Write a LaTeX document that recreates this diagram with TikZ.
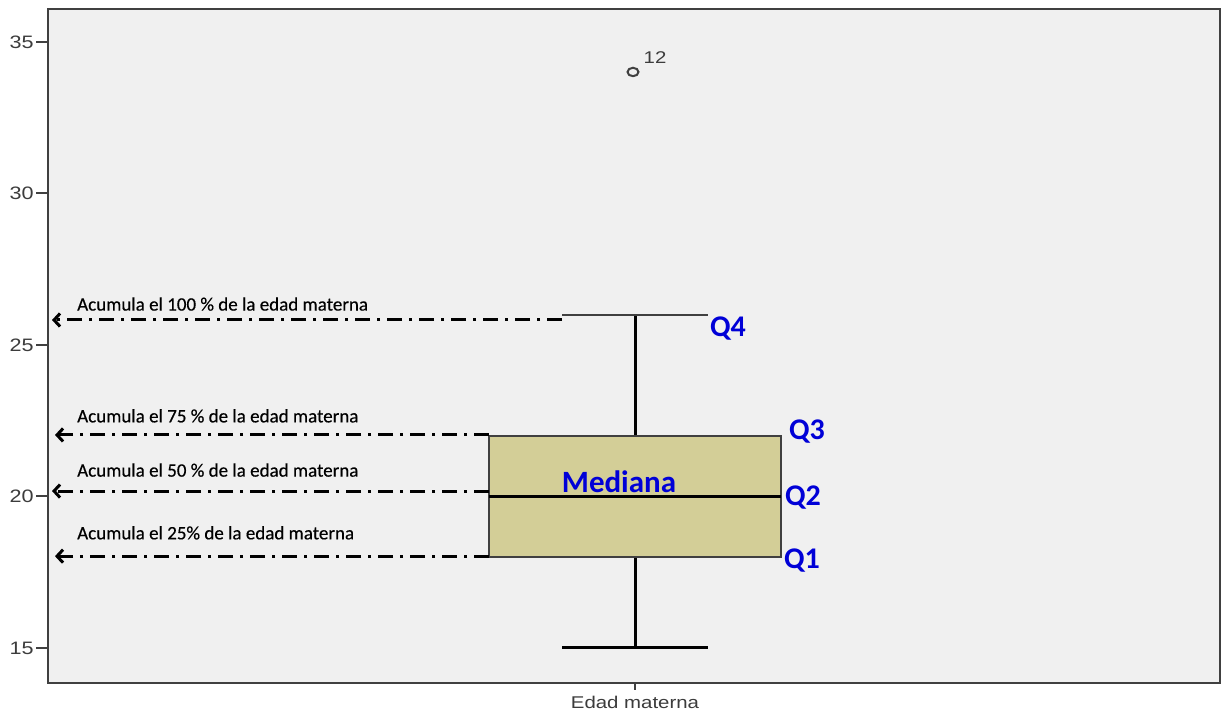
\documentclass[tikz,border=0pt]{standalone}
\usepackage{fontspec}
\setmainfont{Carlito}
\newfontfamily\axisfont{Liberation Sans}
\newfontfamily\notefont[FakeBold=0.4]{Carlito}
\usetikzlibrary{arrows.meta,positioning}
\definecolor{panelgray}{RGB}{240,240,240}
\definecolor{boxtan}{RGB}{211,206,151}
\definecolor{framegray}{RGB}{64,64,64}
\definecolor{qblue}{RGB}{0,0,215}
\definecolor{ticktext}{RGB}{60,60,60}
\tikzset{
  ticklabel/.style={anchor=east,font=\axisfont\fontsize{18}{18}\selectfont,text=ticktext,inner sep=0,xscale=1.2},
  quartlabel/.style={font=\bfseries\fontsize{30}{30}\selectfont,text=qblue,inner sep=0},
  acumlabel/.style={anchor=west,font=\notefont\fontsize{19}{19}\selectfont,inner sep=0},
  acumarrow/.style={line width=3pt,dash pattern=on 15pt off 7pt on 3pt off 7pt,-{Straight Barb[length=6pt,width=13pt]}},
}
\begin{document}
\begin{tikzpicture}[x=1pt,y=30.3pt]
\useasboundingbox[fill=white] (0,12.921) rectangle (1229,36.386);
\draw[fill=panelgray,draw=framegray,line width=2.2pt] (48,13.845) rectangle (1220,36.089);
\draw[framegray,line width=2pt] (36,35) -- (48,35);
\node[ticklabel] (y35) at (34,35) {35};
\draw[framegray,line width=2pt] (36,30) -- (48,30);
\node[ticklabel] (y30) at (34,30) {30};
\draw[framegray,line width=2pt] (36,25) -- (48,25);
\node[ticklabel] (y25) at (34,25) {25};
\draw[framegray,line width=2pt] (36,20) -- (48,20);
\node[ticklabel] (y20) at (34,20) {20};
\draw[framegray,line width=2pt] (36,15) -- (48,15);
\node[ticklabel] (y15) at (34,15) {15};
\draw[framegray,line width=2pt] (635,13.845) -- (635,13.614);
\node[ticklabel,anchor=center,font=\axisfont\fontsize{17}{17}\selectfont] (xname) at (635,13.218) {Edad materna};
\draw[line width=3pt] (635,22) -- (635,26);
\draw[framegray,line width=1.8pt] (562,26) -- (708,26);
\draw[line width=3pt] (635,18) -- (635,15);
\draw[line width=3pt] (562,15) -- (708,15);
\draw[fill=boxtan,draw=framegray,line width=2pt] (489,18) rectangle (781,22);
\draw[line width=3pt] (489,20) -- (781,20);
\coordinate (outlier) at (633,34.01);
\draw[framegray,line width=2pt] (outlier) ellipse (5.5pt and 4.2pt);
\node[ticklabel,anchor=center,font=\axisfont\fontsize{17}{17}\selectfont] (outlierid) at (655,34.47) {12};
\coordinate (w100) at (562,25.825);
\coordinate (a100) at (52,25.825);
\coordinate (w75) at (489,22.03);
\coordinate (a75) at (55,22.03);
\coordinate (w50) at (489,20.18);
\coordinate (a50) at (52,20.18);
\coordinate (w25) at (489,18.03);
\coordinate (a25) at (55,18.03);
\draw[acumarrow] (w100) -- (a100);
\draw[acumarrow] (w75) -- (a75);
\draw[acumarrow] (w50) -- (a50);
\draw[acumarrow] (w25) -- (a25);
\node[acumlabel] (t100) at (77,26.35) {Acumula el 100 \% de la edad materna};
\node[acumlabel] (t75) at (77,22.66) {Acumula el 75 \% de la edad materna};
\node[acumlabel] (t50) at (77,20.87) {Acumula el 50 \% de la edad materna};
\node[acumlabel] (t25) at (77,18.80) {Acumula el 25\% de la edad materna};
\node[quartlabel] (q4) at (728,25.53) {Q4};
\node[quartlabel] (q3) at (807,22.13) {Q3};
\node[quartlabel] (q2) at (803,19.95) {Q2};
\node[quartlabel] (q1) at (802,17.90) {Q1};
\node[quartlabel,font=\bfseries\fontsize{31}{31}\selectfont] (mediana) at (619,20.48) {Mediana};
\end{tikzpicture}
\end{document}
